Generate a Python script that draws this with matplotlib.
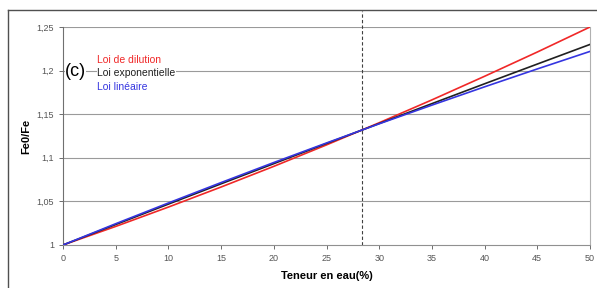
import numpy as np
import matplotlib.pyplot as plt
from matplotlib.lines import Line2D

plt.rcParams['font.family'] = ['Liberation Sans', 'DejaVu Sans']

# teneur en eau (%)
teneur = [0, 5, 10, 15, 20, 25, 30, 35, 40, 45, 50]
# Fe0/Fe
loi_dilution = [1.0, 1.0213, 1.0435, 1.0665, 1.0902, 1.1148, 1.1402, 1.1664, 1.1935, 1.2213, 1.25]
loi_expo = [1.0, 1.0235, 1.0469, 1.0702, 1.0933, 1.1164, 1.1393, 1.1621, 1.1849, 1.2075, 1.2300]
loi_lineaire = [1.0, 1.0244, 1.0482, 1.0716, 1.0946, 1.1170, 1.1390, 1.1604, 1.1814, 1.2019, 1.2220]
teneur_ref = 28.4

yticks = [1, 1.05, 1.1, 1.15, 1.2, 1.25]
ylabels = ['1', '1,05', '1,1', '1,15', '1,2', '1,25']
xticks = [0, 5, 10, 15, 20, 25, 30, 35, 40, 45, 50]

fig = plt.figure(figsize=(5.97, 2.88), dpi=100)
ax = fig.add_axes([63/597, 1-245/288, (590-63)/597, (245-27)/288])

for y in yticks[1:]:
    ax.axhline(y, color='#9a9a9a', lw=0.8, zorder=1)

ax.plot(teneur, loi_dilution, color='#f02828', lw=1.2, zorder=3)
ax.plot(teneur, loi_expo, color='#202020', lw=1.2, zorder=3)
ax.plot(teneur, loi_lineaire, color='#3535e0', lw=1.2, zorder=4)
# dashed line runs up to the outer frame
ax.plot([teneur_ref, teneur_ref], [1, 1.268], color='#404040', lw=0.8,
        ls=(0, (3, 2)), zorder=2, clip_on=False)

ax.set_xlim(0, 50)
ax.set_ylim(1, 1.25)
ax.set_xticks(xticks)
ax.set_xticklabels([str(v) for v in xticks])
ax.set_yticks(yticks)
ax.set_yticklabels(ylabels)
ax.tick_params(labelsize=6.5, colors='#555555', length=3, width=0.6)

ax.spines['top'].set_visible(False)
ax.spines['left'].set_color('#707070')
ax.spines['bottom'].set_color('#909090')
ax.spines['right'].set_color('#b0b0b0')
for s in ax.spines.values():
    s.set_linewidth(0.8)

ax.set_xlabel('Teneur en eau(%)', fontsize=8, fontweight='bold', labelpad=6)
ax.set_ylabel('Fe0/Fe', fontsize=8, fontweight='bold', labelpad=4)

box = dict(facecolor='white', edgecolor='none', pad=0.3)
ax.text(97/597, 1-60/288, 'Loi de dilution', transform=fig.transFigure,
        color='#f02828', fontsize=7.5, va='center', bbox=box, zorder=5)
ax.text(97/597, 1-73/288, 'Loi exponentielle', transform=fig.transFigure,
        color='#202020', fontsize=7.5, va='center', bbox=box, zorder=5)
ax.text(97/597, 1-87/288, 'Loi linéaire', transform=fig.transFigure,
        color='#3535e0', fontsize=7.5, va='center', bbox=box, zorder=5)
ax.text(65/597, 1-72/288, '(c)', transform=fig.transFigure,
        color='black', fontsize=13, va='center', bbox=box, zorder=5)

# outer frame
fig.add_artist(Line2D([8/597, 8/597], [0, 1-10/288], color='#505050', lw=1))
fig.add_artist(Line2D([8/597, 1], [1-10/288, 1-10/288], color='#505050', lw=1))

fig.savefig('out.png', dpi=100)
